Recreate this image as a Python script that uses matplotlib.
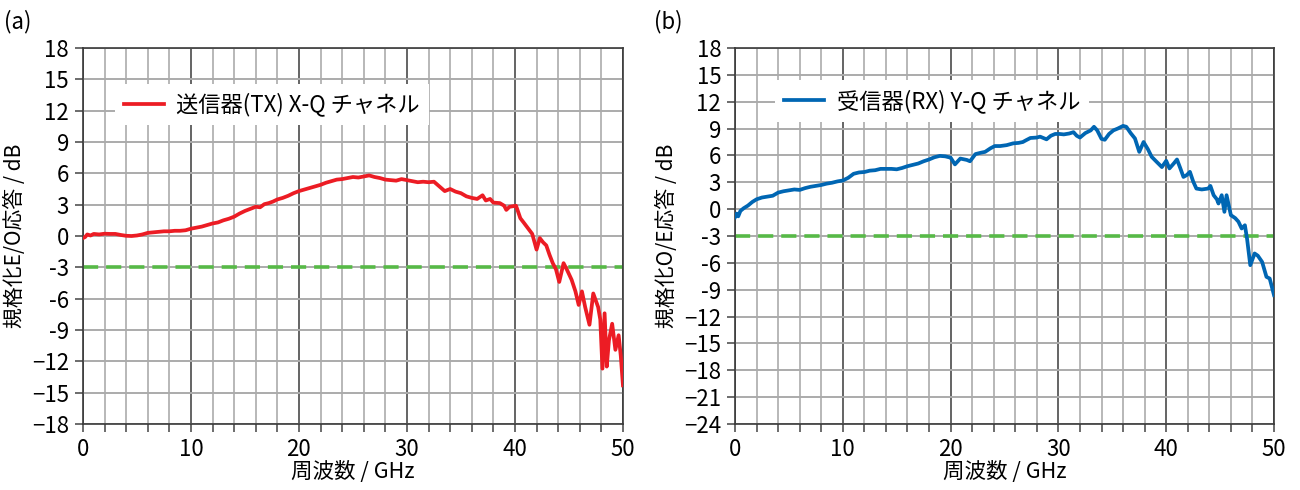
"""Normalized E/O (TX) and O/E (RX) frequency response, two panels."""

import matplotlib
matplotlib.use("Agg")
import matplotlib.pyplot as plt
from matplotlib.ticker import MultipleLocator

plt.rcParams["font.family"] = ["Noto Sans CJK JP", "DejaVu Sans"]
plt.rcParams["font.size"] = 15

# ── data ──
tx_freq = [0.0, 0.2, 0.4, 0.7, 1.0, 1.5, 2.0, 2.5, 3.0, 3.5, 4.0, 4.5, 5.0, 5.5,
           6.0, 6.5, 7.0, 7.5, 8.0, 8.5, 9.0, 9.5, 10.0, 10.5, 11.0, 11.5, 12.0,
           12.5, 13.0, 13.5, 14.0, 14.5, 15.0, 15.5, 16.0, 16.4, 16.8, 17.2, 17.6,
           18.0, 18.5, 19.0, 19.5, 20.0, 20.5, 21.0, 21.5, 22.0, 22.5, 23.0, 23.5,
           24.0, 24.5, 25.0, 25.5, 26.0, 26.5, 27.0, 27.5, 28.0, 28.5, 29.0, 29.5,
           30.0, 30.5, 31.0, 31.5, 32.0, 32.5, 33.0, 33.5, 34.0, 34.5, 35.0, 35.5,
           36.0, 36.5, 37.0, 37.3, 37.7, 38.0, 38.6, 39.0, 39.2, 39.5, 40.1, 40.5,
           40.8, 41.2, 41.6, 42.0, 42.3, 42.6, 42.9, 43.2, 43.5, 43.8, 44.1, 44.5,
           44.8, 45.25, 45.6, 45.9, 46.2, 46.5, 46.9, 47.25, 47.7, 47.9, 48.1, 48.3,
           48.5, 48.7, 49.0, 49.3, 49.6, 49.8, 50.0]
tx_resp = [-0.2, -0.1, 0.15, 0.05, 0.2, 0.15, 0.22, 0.2, 0.2, 0.1, 0.02, 0.0, 0.05,
           0.15, 0.3, 0.35, 0.4, 0.45, 0.45, 0.5, 0.5, 0.55, 0.7, 0.8, 0.9, 1.05,
           1.2, 1.3, 1.5, 1.65, 1.85, 2.15, 2.4, 2.6, 2.8, 2.75, 3.05, 3.15, 3.3,
           3.5, 3.65, 3.85, 4.1, 4.3, 4.45, 4.6, 4.75, 4.9, 5.1, 5.25, 5.4, 5.45,
           5.55, 5.65, 5.6, 5.7, 5.8, 5.65, 5.55, 5.4, 5.35, 5.3, 5.45, 5.35, 5.25,
           5.15, 5.2, 5.15, 5.2, 4.75, 4.3, 4.5, 4.25, 4.1, 3.8, 3.65, 3.55, 3.9,
           3.4, 3.55, 3.2, 3.15, 2.9, 2.5, 2.8, 2.9, 1.7, 1.3, 0.75, 0.2, -1.3,
           -0.2, -0.6, -0.9, -1.8, -2.6, -3.2, -4.4, -2.6, -3.2, -4.2, -5.3, -6.6,
           -5.3, -6.8, -8.5, -5.5, -6.8, -8.0, -12.7, -7.4, -12.5, -10.0, -8.4,
           -10.9, -9.5, -11.5, -14.3]

rx_freq = [0.0, 0.15, 0.3, 0.5, 0.8, 1.2, 1.6, 2.0, 2.5, 3.0, 3.5, 4.0, 4.5, 5.0,
           5.5, 6.0, 6.5, 7.0, 7.5, 8.0, 8.5, 9.0, 9.5, 10.0, 10.5, 11.0, 11.5,
           12.0, 12.5, 13.0, 13.5, 14.0, 14.5, 15.0, 15.5, 16.0, 16.5, 17.0, 17.5,
           18.0, 18.5, 19.0, 19.5, 20.0, 20.4, 20.9, 21.5, 21.8, 22.3, 22.8, 23.2,
           23.7, 24.1, 24.6, 25.2, 25.8, 26.3, 26.7, 27.0, 27.4, 28.0, 28.3, 28.9,
           29.3, 29.7, 30.1, 30.5, 31.0, 31.4, 31.7, 32.0, 32.5, 33.0, 33.3, 33.6,
           34.0, 34.3, 34.7, 35.1, 35.5, 36.0, 36.3, 36.7, 37.1, 37.5, 37.9, 38.3,
           38.65, 39.1, 39.6, 40.0, 40.3, 40.7, 41.0, 41.3, 41.6, 41.9, 42.2, 42.5,
           42.8, 43.3, 43.9, 44.1, 44.4, 44.7, 44.85, 45.15, 45.4, 45.6, 46.0, 46.4,
           46.7, 47.0, 47.3, 47.5, 47.8, 48.2, 48.5, 48.9, 49.3, 49.6, 50.0]
rx_resp = [-0.9, -0.5, -0.8, -0.2, 0.1, 0.4, 0.8, 1.1, 1.3, 1.4, 1.5, 1.85, 2.0,
           2.1, 2.2, 2.15, 2.35, 2.5, 2.6, 2.7, 2.85, 2.95, 3.1, 3.2, 3.5, 3.95,
           4.1, 4.15, 4.3, 4.35, 4.5, 4.5, 4.5, 4.45, 4.6, 4.8, 4.95, 5.1, 5.35,
           5.55, 5.8, 5.95, 5.9, 5.75, 5.0, 5.65, 5.5, 5.35, 6.15, 6.3, 6.4, 6.8,
           7.05, 7.05, 7.15, 7.35, 7.4, 7.5, 7.7, 7.95, 8.0, 8.1, 7.8, 8.2, 8.4,
           8.4, 8.35, 8.45, 8.6, 8.2, 8.0, 8.5, 8.8, 9.2, 8.8, 7.85, 7.75, 8.4,
           8.8, 9.0, 9.3, 9.2, 8.5, 7.9, 6.4, 7.5, 6.7, 5.85, 5.3, 4.7, 5.4, 4.55,
           5.1, 5.55, 4.6, 3.6, 3.8, 4.17, 3.1, 2.3, 2.2, 2.3, 2.6, 1.56, 1.1,
           0.63, 1.56, -0.3, 1.56, -0.67, -1.0, -1.4, -2.16, -1.8, -3.3, -6.26,
           -4.95, -5.2, -5.9, -7.56, -7.75, -9.6]

tx_label = "送信器(TX) X-Q チャネル"
rx_label = "受信器(RX) Y-Q チャネル"
tx_ylabel = "規格化E/O応答 / dB"
rx_ylabel = "規格化O/E応答 / dB"
xlabel = "周波数 / GHz"
cutoff_db = -3

TX_COLOR = "#ec1c24"
RX_COLOR = "#0066b3"
CUT_COLOR = "#57b947"


def style_axis(ax, ymin, ymax):
    ax.set_xlim(0, 50)
    ax.set_ylim(ymin, ymax)
    ax.xaxis.set_major_locator(MultipleLocator(10))
    ax.xaxis.set_minor_locator(MultipleLocator(2))
    ax.yaxis.set_major_locator(MultipleLocator(3))
    ax.yaxis.set_major_formatter(lambda v, pos: f"{v:.0f}".replace("-", "\u2212")
                                 if v <= -10 else f"{v:.0f}")
    ax.tick_params(which="both", direction="out", length=6, width=1.1,
                   color="#444444", pad=4, labelsize=16)
    ax.grid(True, axis="x", which="minor", color="#ababab", lw=1.2, zorder=0)
    ax.grid(True, axis="x", which="major", color="#4a4a4a", lw=1.2, zorder=0)
    ax.grid(True, axis="y", which="major", color="#ababab", lw=1.4, zorder=0)
    for sp in ax.spines.values():
        sp.set_color("#3a3a3a")
        sp.set_linewidth(1.2)
    ax.set_axisbelow(True)
    ax.set_xlabel(xlabel, labelpad=0, fontsize=15.5)


def draw_panel(ax, freq, resp, color, label, ylabel, ymin, legend_anchor):
    style_axis(ax, ymin, 18)
    ax.axhline(cutoff_db, color=CUT_COLOR, lw=2.6, dashes=(4.2, 2.2), zorder=2)
    ax.plot(freq, resp, color=color, lw=2.7, label=label, zorder=3,
            solid_joinstyle="round")
    ax.set_ylabel(ylabel, labelpad=4)
    leg = ax.legend(loc="upper left", bbox_to_anchor=legend_anchor, frameon=True,
                    fancybox=False, framealpha=1, edgecolor="none", fontsize=16,
                    handlelength=1.8, handletextpad=0.55, borderpad=0.4,
                    borderaxespad=0)
    leg.get_frame().set_linewidth(0)


fig = plt.figure(figsize=(13, 4.9), dpi=100)
ax_tx = fig.add_axes([0.0638, 0.1347, 0.4154, 0.7673])
ax_rx = fig.add_axes([0.5654, 0.1347, 0.4146, 0.7673])

draw_panel(ax_tx, tx_freq, tx_resp, TX_COLOR, tx_label, tx_ylabel, -18, (0.06, 0.905))
draw_panel(ax_rx, rx_freq, rx_resp, RX_COLOR, rx_label, rx_ylabel, -24, (0.075, 0.915))

fig.text(0.003, 0.955, "(a)", fontsize=16, va="center")
fig.text(0.503, 0.955, "(b)", fontsize=16, va="center")

fig.savefig("out.png", dpi=100)
